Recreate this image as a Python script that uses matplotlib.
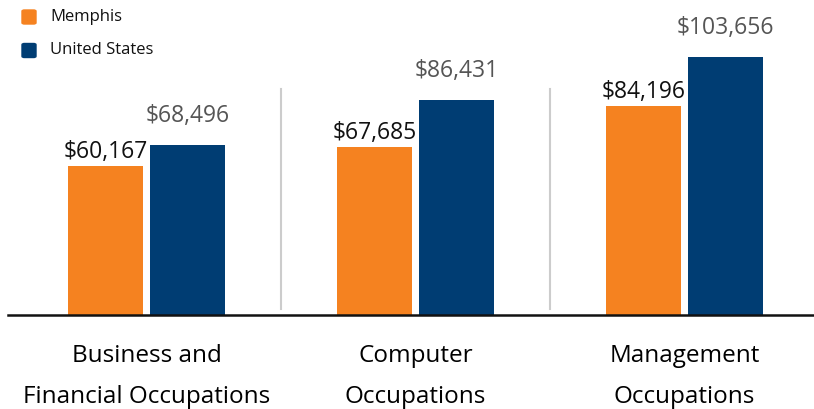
import matplotlib.pyplot as plt
from matplotlib.patches import FancyBboxPatch
import numpy as np

categories = ['Business and\nFinancial Occupations', 'Computer\nOccupations', 'Management\nOccupations']
memphis = [60167, 67685, 84196]
united_states = [68496, 86431, 103656]
series_names = ['Memphis', 'United States']

orange = '#F58220'
navy = '#003D73'

plt.rcParams['font.family'] = ['Open Sans', 'DejaVu Sans']

fig = plt.figure(figsize=(8.14, 4.10), dpi=100)
# axes: bottom at pixel 316, top at pixel 0, left at pixel 8
ax = fig.add_axes([8 / 814, (410 - 316) / 410, 806 / 814, 316 / 410])

x = np.arange(len(categories))
w = 0.279
off = 0.153

ax.bar(x - off, memphis, w, color=orange)
ax.bar(x + off, united_states, w, color=navy)

for xi, v in zip(x, memphis):
    ax.annotate('${:,}'.format(v), (xi - off, v), xytext=(0, 2), textcoords='offset points',
                ha='center', va='bottom', fontsize=16.5, color='#111111')
for xi, v in zip(x, united_states):
    ax.annotate('${:,}'.format(v), (xi + off, v), xytext=(0, 13), textcoords='offset points',
                ha='center', va='bottom', fontsize=16.5, color='#555555')

# separators between groups
for s in [0.5, 1.5]:
    ax.plot([s, s], [0.019, 0.715], transform=ax.get_xaxis_transform(),
            color='#cccccc', lw=1.5)

ax.set_xlim(-0.515, 2.481)
ax.set_ylim(0, 127200)
for sp in ['top', 'right', 'left']:
    ax.spines[sp].set_visible(False)
ax.spines['bottom'].set_linewidth(1.8)
ax.spines['bottom'].set_color('#111111')
ax.set_yticks([])
ax.set_xticks(x)
ax.set_xticklabels(categories, fontsize=17.5, linespacing=1.95)
ax.tick_params(axis='x', length=0, pad=20)

# legend
for i, (name, col) in enumerate(zip(series_names, [orange, navy])):
    yp = 1 - (18 + 33.5 * i) / 410
    fig.patches.append(FancyBboxPatch((22 / 814, yp - 7 / 410), 14 / 814, 14 / 410,
                                      boxstyle='round,pad=0,rounding_size=0.003',
                                      transform=fig.transFigure, color=col))
    fig.text(50 / 814, yp + 1 / 410, name, fontsize=12, va='center', ha='left', color='#111111')

fig.savefig('out.png', dpi=100)
